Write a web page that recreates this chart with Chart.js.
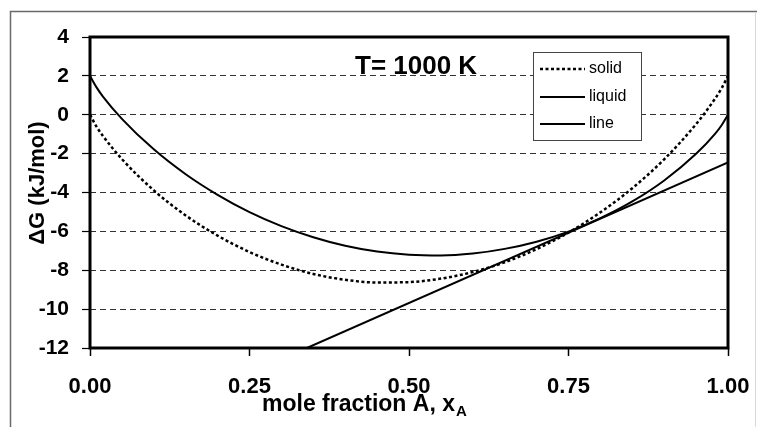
<!DOCTYPE html>
<html>
<head>
<meta charset="utf-8">
<title>Gibbs energy of mixing, T = 1000 K</title>
<script src="https://cdn.jsdelivr.net/npm/chart.js@4.4.1/dist/chart.umd.min.js"></script>
<style>
  html, body { margin: 0; padding: 0; background: #fff; }
  #wrap { position: relative; width: 757px; height: 427px; }
</style>
</head>
<body>
<div id="wrap"><canvas id="gibbsChart" width="757" height="427"></canvas></div>
<script>
// mole fraction of A and the free energy curves (kJ/mol)
const xA = [0, 0.01, 0.02, 0.05, 0.10, 0.15, 0.20, 0.25, 0.30, 0.35, 0.40, 0.45, 0.50,
            0.55, 0.60, 0.65, 0.70, 0.75, 0.80, 0.85, 0.90, 0.95, 0.98, 0.99, 1.00];
const gSolid = [0, -0.60, -1.08, -2.28, -3.89, -5.18, -6.22, -7.06, -7.71, -8.19, -8.49, -8.63, -8.61,
                -8.43, -8.09, -7.59, -6.91, -6.06, -5.02, -3.78, -2.29, -0.48, 0.84, 1.36, 2.00];
const gLiquid = [2.00, 1.42, 0.95, -0.21, -1.78, -3.06, -4.12, -5.01, -5.73, -6.30, -6.74, -7.04, -7.20,
                 -7.24, -7.14, -6.90, -6.53, -6.01, -5.32, -4.46, -3.38, -2.01, -0.97, -0.54, 0];
// common tangent
const tangentX = [0.34, 1.00];
const tangentG = [-12, -2.45];

const seriesNames = ['solid', 'liquid', 'line'];
const xTickValues = [0, 0.25, 0.5, 0.75, 1];
const xTickLabels = ['0.00', '0.25', '0.50', '0.75', '1.00'];
const yTickValues = [-12, -10, -8, -6, -4, -2, 0, 2, 4];

const FONT = '"Liberation Sans", Arial, Helvetica, sans-serif';

const toPoints = (xs, ys) => xs.map((x, i) => ({ x: x, y: ys[i] }));

// frame, titles and the boxed legend
const decorations = {
  id: 'decorations',
  beforeDraw(chart) {
    const ctx = chart.ctx;
    ctx.save();
    ctx.fillStyle = '#fff';
    ctx.fillRect(0, 0, chart.width, chart.height);
    ctx.strokeStyle = '#6a6a6a';
    ctx.lineWidth = 1.5;
    ctx.beginPath();
    ctx.moveTo(10.5, chart.height);
    ctx.lineTo(10.5, 11.5);
    ctx.lineTo(chart.width, 11.5);
    ctx.stroke();
    ctx.strokeStyle = '#d8d8d8';
    ctx.lineWidth = 1;
    ctx.beginPath();
    ctx.moveTo(755.5, 12);
    ctx.lineTo(755.5, chart.height);
    ctx.stroke();
    ctx.restore();
  },
  afterDraw(chart) {
    const ctx = chart.ctx;
    const a = chart.chartArea;
    ctx.save();

    // plot frame
    ctx.strokeStyle = '#000';
    ctx.lineWidth = 3;
    ctx.strokeRect(a.left, a.top, a.right - a.left, a.bottom - a.top);

    ctx.fillStyle = '#000';
    ctx.textBaseline = 'alphabetic';

    // temperature label
    ctx.font = 'bold 26px ' + FONT;
    ctx.textAlign = 'left';
    ctx.fillText('T= 1000 K', 355, 74);

    // y axis title
    ctx.save();
    ctx.translate(44, 183);
    ctx.rotate(-Math.PI / 2);
    ctx.font = 'bold 22px ' + FONT;
    ctx.textAlign = 'center';
    ctx.fillText('\u0394G (kJ/mol)', 0, 0);
    ctx.restore();

    // x axis title with subscript
    const main = 'mole fraction A, x';
    ctx.font = 'bold 23px ' + FONT;
    const w1 = ctx.measureText(main).width;
    ctx.fillText(main, 262, 411);
    ctx.font = 'bold 15px ' + FONT;
    ctx.fillText('A', 262 + w1 + 1, 416);

    // legend
    const box = { x: 533.5, y: 52.5, w: 108, h: 88 };
    ctx.fillStyle = '#fff';
    ctx.fillRect(box.x, box.y, box.w, box.h);
    ctx.strokeStyle = '#444';
    ctx.lineWidth = 1;
    ctx.strokeRect(box.x, box.y, box.w, box.h);
    const rows = [69, 97, 124];
    chart.data.datasets.forEach((ds, i) => {
      const y = rows[i];
      ctx.save();
      ctx.strokeStyle = ds.borderColor;
      ctx.lineWidth = ds.borderWidth;
      ctx.setLineDash(ds.borderDash || []);
      ctx.beginPath();
      ctx.moveTo(540, y);
      ctx.lineTo(585, y);
      ctx.stroke();
      ctx.restore();
      ctx.fillStyle = '#000';
      ctx.font = '16px ' + FONT;
      ctx.textAlign = 'left';
      ctx.textBaseline = 'middle';
      ctx.fillText(ds.label, 589, y);
    });
    ctx.restore();
  }
};

new Chart(document.getElementById('gibbsChart'), {
  type: 'scatter',
  data: {
    datasets: [
      {
        label: seriesNames[0],
        data: toPoints(xA, gSolid),
        showLine: true,
        borderColor: '#000',
        borderWidth: 2.5,
        borderDash: [3, 2.5],
        pointRadius: 0,
        cubicInterpolationMode: 'monotone'
      },
      {
        label: seriesNames[1],
        data: toPoints(xA, gLiquid),
        showLine: true,
        borderColor: '#000',
        borderWidth: 2,
        pointRadius: 0,
        cubicInterpolationMode: 'monotone'
      },
      {
        label: seriesNames[2],
        data: toPoints(tangentX, tangentG),
        showLine: true,
        borderColor: '#000',
        borderWidth: 2,
        pointRadius: 0
      }
    ]
  },
  options: {
    responsive: false,
    animation: false,
    layout: { padding: { top: 37, right: 29, left: 0, bottom: 0 } },
    plugins: {
      legend: { display: false },
      tooltip: { enabled: false }
    },
    scales: {
      x: {
        type: 'linear',
        min: 0,
        max: 1,
        afterBuildTicks: (scale) => { scale.ticks = xTickValues.map(v => ({ value: v })); },
        afterFit: (scale) => {
          scale.height = 79;
          scale.paddingLeft = 0;
          scale.paddingRight = 0;
        },
        ticks: {
          color: '#000',
          font: { family: FONT, size: 22, weight: 'bold' },
          padding: 18,
          maxRotation: 0,
          callback: (value, index) => xTickLabels[index]
        },
        grid: {
          drawOnChartArea: false,
          tickLength: 8,
          tickColor: '#000',
          tickWidth: 1.5
        },
        border: { display: false }
      },
      y: {
        type: 'linear',
        min: -12,
        max: 4,
        afterBuildTicks: (scale) => { scale.ticks = yTickValues.map(v => ({ value: v })); },
        afterFit: (scale) => {
          scale.width = 90;
          scale.paddingTop = 0;
          scale.paddingBottom = 0;
        },
        ticks: {
          color: '#000',
          font: { family: FONT, size: 21, weight: 'bold' },
          padding: 13
        },
        grid: {
          color: '#333',
          lineWidth: 1,
          tickLength: 8,
          tickColor: '#000',
          tickWidth: 1.2,
          tickBorderDash: []
        },
        border: { display: false, dash: [6, 4] }
      }
    }
  },
  plugins: [decorations]
});
</script>
</body>
</html>
